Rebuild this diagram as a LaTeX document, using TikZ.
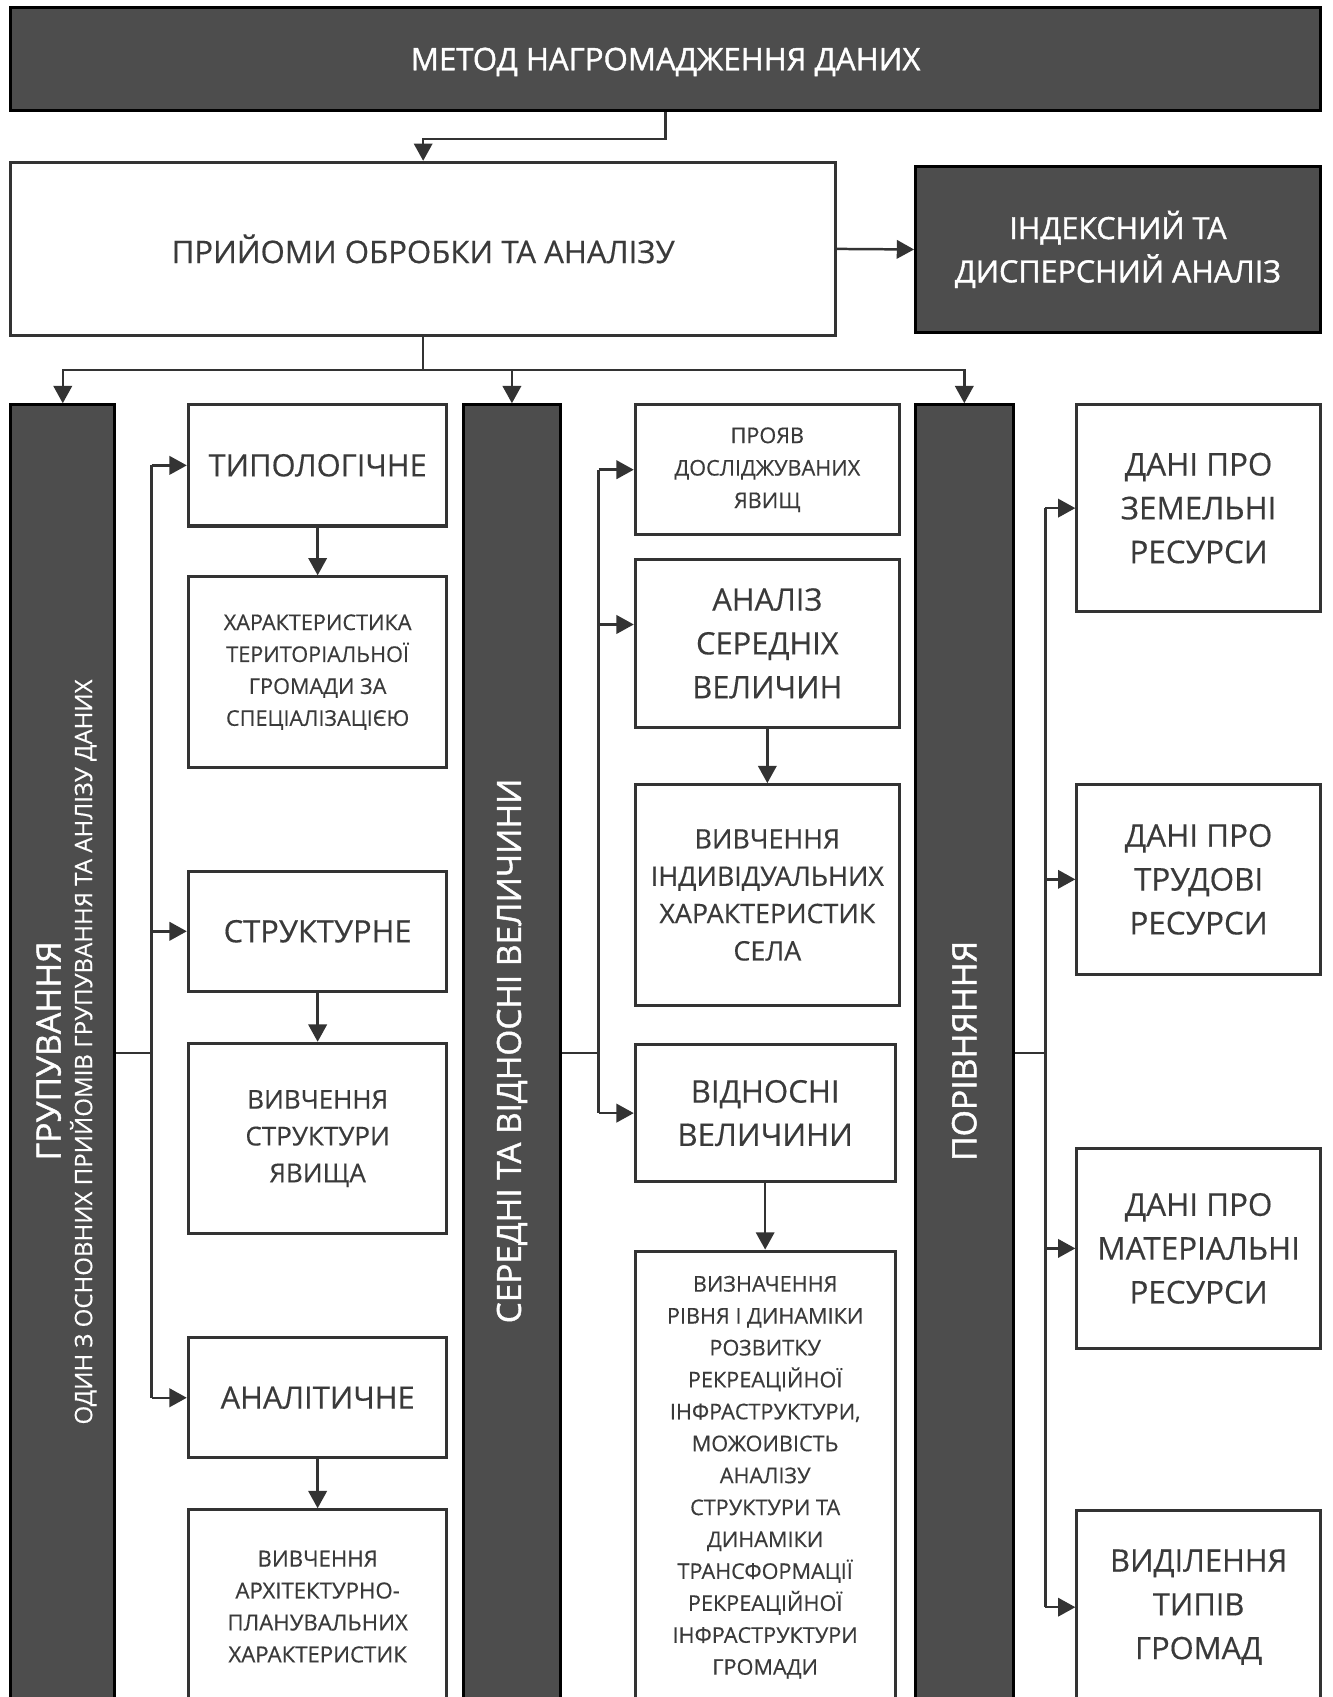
\documentclass[tikz,border=0pt]{standalone}
\usepackage{fontspec}
\setmainfont{Open Sans}[FakeBold=0.4]
\newfontfamily\semib{Open Sans}[FakeBold=1.3]
\usetikzlibrary{arrows.meta}
\definecolor{dk}{HTML}{4D4D4D}
\definecolor{ln}{HTML}{333333}
\definecolor{tx}{HTML}{3A3A3A}
\newcommand\fsz[2]{\fontsize{#1}{#2}\selectfont}
\newcommand\bx[7]{\node[#2,minimum width={(#5-#3)*0.5pt},minimum height={(#6-#4)*0.5pt}] (#1) at ({(#3+#5)/2},{(#4+#6)/2}) {#7};}
\begin{document}
\begin{tikzpicture}[x=0.5pt,y=-0.5pt,
  darkbox/.style={draw=black,fill=dk,line width=1.4pt,inner sep=0pt,text=white,align=center},
  wbox/.style={draw=ln,fill=white,line width=1.4pt,inner sep=0pt,text=tx,align=center},
  conn/.style={draw=ln,line width=1.15pt},
  arr/.style={conn,-{Triangle[length=8pt,width=8.5pt]}},
  wtext/.style={text=white,inner sep=0pt,align=center,rotate=90}]
\useasboundingbox (0,0) rectangle (1231,1568);
\clip (0,0) rectangle (1231,1568);
\fill[white] (0,0) rectangle (1231,1568);

% top
\bx{top}{darkbox,text depth=0pt,font=\semib\fsz{14.4}{16}}{10}{7}{1220}{102}{МЕТОД НАГРОМАДЖЕННЯ ДАНИХ}
\bx{proc}{wbox,font=\fsz{14.4}{18}}{10}{150}{772}{310}{ПРИЙОМИ ОБРОБКИ ТА АНАЛІЗУ}
\bx{idx}{darkbox,font=\semib\fsz{14.1}{20}}{846}{154}{1220}{307}{ІНДЕКСНИЙ ТА\\ДИСПЕРСНИЙ АНАЛІЗ}

% columns
\bx{g}{darkbox}{10}{374}{106}{1572}{}
\node[wtext,font=\semib\fsz{15.6}{18}] (gt) at (45,971) {ГРУПУВАННЯ};
\node[wtext,font=\fsz{11.1}{14}] (gs) at (77,972) {ОДИН З ОСНОВНИХ ПРИЙОМІВ ГРУПУВАННЯ ТА АНЛІЗУ ДАНИХ};
\bx{s}{darkbox}{428}{374}{518}{1572}{}
\node[wtext,font=\semib\fsz{15.4}{18}] (st) at (473,971) {СЕРЕДНІ ТА ВІДНОСНІ ВЕЛИЧИНИ};
\bx{p}{darkbox}{846}{374}{936}{1572}{}
\node[wtext,font=\semib\fsz{15.6}{18}] (pt) at (891,971) {ПОРІВНЯННЯ};

% column 2
\bx{typ}{wbox,font=\fsz{14.25}{18}}{174}{374}{413}{486}{ТИПОЛОГІЧНЕ}
\bx{typd}{wbox,font=\fsz{10}{14.75}}{174}{533}{413}{709}{ХАРАКТЕРИСТИКА\\ТЕРИТОРІАЛЬНОЇ\\ГРОМАДИ ЗА\\СПЕЦІАЛІЗАЦІЄЮ}
\bx{str}{wbox,font=\fsz{14.25}{18}}{174}{805}{413}{916}{СТРУКТУРНЕ}
\bx{strd}{wbox,font=\fsz{12}{17}}{174}{964}{413}{1140}{ВИВЧЕННЯ\\СТРУКТУРИ\\ЯВИЩА}
\bx{an}{wbox,font=\fsz{14.25}{18}}{174}{1236}{413}{1347}{АНАЛІТИЧНЕ}
\bx{and}{wbox,font=\fsz{10.25}{14.75}}{174}{1395}{413}{1574}{ВИВЧЕННЯ\\АРХІТЕКТУРНО-\\ПЛАНУВАЛЬНИХ\\ХАРАКТЕРИСТИК}

% column 4
\bx{pr}{wbox,font=\fsz{10}{15}}{587}{374}{831}{494}{ПРОЯВ\\ДОСЛІДЖУВАНИХ\\ЯВИЩ}
\bx{avg}{wbox,font=\fsz{14.25}{20.25}}{587}{517}{831}{672}{АНАЛІЗ\\СЕРЕДНІХ\\ВЕЛИЧИН}
\bx{ind}{wbox,font=\fsz{12.4}{17.25}}{587}{725}{831}{929}{ВИВЧЕННЯ\\ІНДИВІДУАЛЬНИХ\\ХАРАКТЕРИСТИК\\СЕЛА}
\bx{rel}{wbox,font=\fsz{14.4}{20}}{587}{965}{827}{1092}{ВІДНОСНІ\\ВЕЛИЧИНИ}
\bx{det}{wbox,font=\fsz{10}{14.75}}{587}{1156}{827}{1574}{ВИЗНАЧЕННЯ\\РІВНЯ І ДИНАМІКИ\\РОЗВИТКУ\\РЕКРЕАЦІЙНОЇ\\ІНФРАСТРУКТУРИ,\\МОЖОИВІСТЬ\\АНАЛІЗУ\\СТРУКТУРИ ТА\\ДИНАМІКИ\\ТРАНСФОРМАЦІЇ\\РЕКРЕАЦІЙНОЇ\\ІНФРАСТРУКТУРИ\\ГРОМАДИ}

% column 6
\bx{d1}{wbox,font=\fsz{14.5}{20.25}}{995}{374}{1220}{565}{ДАНІ ПРО\\ЗЕМЕЛЬНІ\\РЕСУРСИ}
\bx{d2}{wbox,font=\fsz{14.5}{20.25}}{995}{725}{1220}{900}{ДАНІ ПРО\\ТРУДОВІ\\РЕСУРСИ}
\bx{d3}{wbox,font=\fsz{14.5}{20.25}}{995}{1061}{1220}{1246}{ДАНІ ПРО\\МАТЕРІАЛЬНІ\\РЕСУРСИ}
\bx{d4}{wbox,font=\fsz{14.25}{20.25}}{995}{1396}{1220}{1574}{ВИДІЛЕННЯ\\ТИПІВ\\ГРОМАД}

% connectors top
\draw[arr] (top.south) -- ++(0,25) -| (proc.north);
\draw[arr] (proc.east) -- (idx.west);
\coordinate (bus1) at (391,342);
\draw[conn] (proc.south) -- (bus1);
\draw[arr] (bus1) -| (g.north);
\draw[arr] (bus1) -| (s.north);
\draw[arr] (bus1) -| (p.north);

% column 1 bus
\coordinate (ga) at (140,971);
\draw[conn] (g.east) -- (g.east -| ga);
\draw[conn] (ga |- typ.west) -- (ga |- an.west);
\draw[arr] (ga |- typ.west) -- (typ.west);
\draw[arr] (ga |- str.west) -- (str.west);
\draw[arr] (ga |- an.west) -- (an.west);
\draw[arr] (typ.south) -- (typd.north);
\draw[arr] (str.south) -- (strd.north);
\draw[arr] (an.south) -- (and.north);

% column 3 bus
\coordinate (sa) at (553,969);
\coordinate (avgin) at ([yshift=8.75pt]avg.west);
\draw[conn] (s.east) -- (s.east -| sa);
\draw[conn] (sa |- pr.west) -- (sa |- rel.west);
\draw[arr] (sa |- pr.west) -- (pr.west);
\draw[arr] (sa |- avgin) -- (avgin);
\draw[arr] (sa |- rel.west) -- (rel.west);
\draw[arr] (avg.south) -- (ind.north);
\draw[arr] (rel.south) -- (det.north);

% column 5 bus
\coordinate (pa) at (966,971);
\draw[conn] (p.east) -- (p.east -| pa);
\draw[conn] (pa |- d1.west) -- (pa |- d4.west);
\draw[arr] (pa |- d1.west) -- (d1.west);
\draw[arr] (pa |- d2.west) -- (d2.west);
\draw[arr] (pa |- d3.west) -- (d3.west);
\draw[arr] (pa |- d4.west) -- (d4.west);
\end{tikzpicture}
\end{document}
